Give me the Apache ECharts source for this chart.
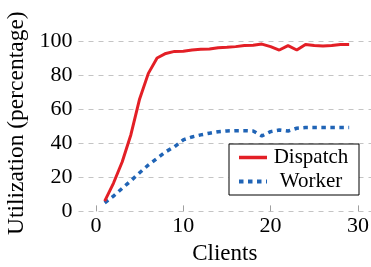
<!DOCTYPE html>
<html>
<head>
<meta charset="utf-8">
<title>Utilization vs clients</title>
<script src="https://cdn.jsdelivr.net/npm/echarts@6.0.0/dist/echarts.min.js"></script>
<style>
  html, body { margin: 0; padding: 0; background: #fff; }
  #chart { width: 371px; height: 267px; }
</style>
</head>
<body>
<div id="chart"></div>
<script>
// values
const clients = [1, 2, 3, 4, 5, 6, 7, 8, 9, 10, 11, 12, 13, 14, 15, 16, 17, 18, 19, 20, 21, 22, 23, 24, 25, 26, 27, 28, 29];
const dispatch = [6, 16.5, 29, 45, 66, 81, 90, 92.7, 93.9, 94, 94.7, 95.1, 95.3, 96.1, 96.3, 96.7, 97.3, 97.5, 98.2, 96.7, 94.7, 97.3, 94.7, 98, 97.3, 97.1, 97.3, 98, 98];
const worker = [5, 9, 13.5, 18, 22.7, 27.2, 31.1, 35, 38, 42, 43.7, 44.9, 45.9, 46.8, 47.2, 47.4, 47.4, 47.2, 44.3, 46.8, 47.8, 47.2, 48.8, 49.2, 49.2, 49.2, 49.2, 49.2, 49.2];
const xTicks = [0, 10, 20, 30];

const font = 'Liberation Serif';
const red = '#e31f26';
const blue = '#2064b6';

const pairs = (ys) => clients.map((x, i) => [x, ys[i]]);

const chart = echarts.init(document.getElementById('chart'));
chart.setOption({
  animation: false,
  grid: { left: 78.5, right: 0, top: 41, bottom: 55.6, containLabel: false, outerBoundsMode: 'none' },
  legend: {
    orient: 'vertical',
    left: 229,
    top: 144,
    padding: [3, 9, 3, 8],
    itemGap: 3,
    itemWidth: 28,
    itemHeight: 14,
    backgroundColor: '#fff',
    borderColor: '#000',
    borderWidth: 1,
    borderRadius: 0,
    itemStyle: { opacity: 0 },   // line only, no marker
    data: [
      { name: 'Dispatch', lineStyle: { width: 3.5 } },
      { name: 'Worker', lineStyle: { width: 4 } }
    ],
    formatter: '{t|{name}}',
    textStyle: {
      fontFamily: font, fontSize: 21, color: '#000',
      rich: { t: { width: 78, align: 'center', fontFamily: font, fontSize: 21, lineHeight: 22 } }
    }
  },
  xAxis: {
    type: 'value',
    min: -2,
    max: 31.5,
    name: 'Clients',
    nameLocation: 'middle',
    nameGap: 31,
    nameTextStyle: { fontFamily: font, fontSize: 23, color: '#000' },
    axisLine: { show: false },
    axisTick: { show: true, inside: true, length: 6, customValues: xTicks, lineStyle: { color: '#a0a0a0', width: 1 } },
    axisLabel: { customValues: xTicks, fontFamily: font, fontSize: 22, color: '#000', margin: 4 },
    splitLine: { show: false }
  },
  yAxis: {
    type: 'value',
    min: 0,
    max: 100,
    interval: 20,
    name: 'Utilization (percentage)',
    nameLocation: 'middle',
    nameGap: 46,
    nameTextStyle: { fontFamily: font, fontSize: 23.5, color: '#000', padding: [0, 0, 0, 6] },
    axisLine: { show: false },
    axisTick: { show: false },
    axisLabel: { fontFamily: font, fontSize: 22, color: '#000', margin: 6 },
    splitLine: { show: true, lineStyle: { color: '#c4c4c4', width: 1, type: [5, 5] } }
  },
  series: [
    {
      name: 'Dispatch',
      type: 'line',
      data: pairs(dispatch),
      symbol: 'none',
      lineStyle: { color: red, width: 3 },
      itemStyle: { color: red },
      z: 3
    },
    {
      name: 'Worker',
      type: 'line',
      data: pairs(worker),
      symbol: 'none',
      lineStyle: { color: blue, width: 3.5, type: [4.5, 4.5], cap: 'butt' },
      itemStyle: { color: blue },
      z: 2
    }
  ]
});
</script>
</body>
</html>
